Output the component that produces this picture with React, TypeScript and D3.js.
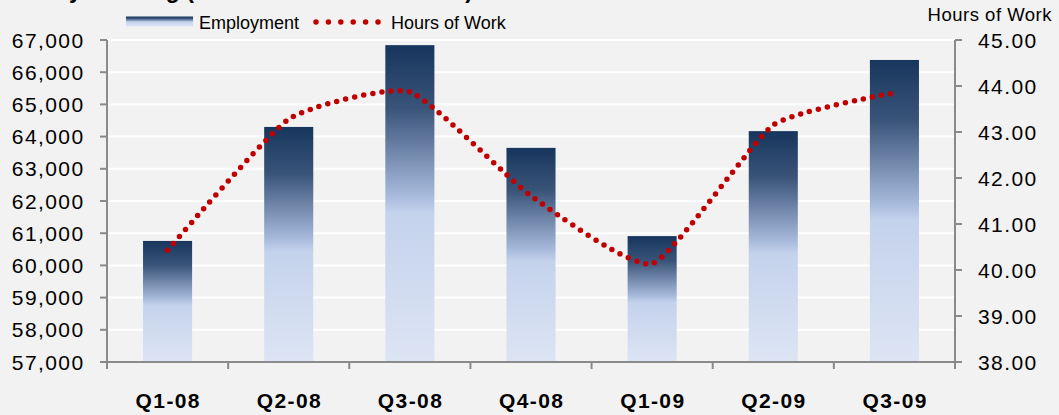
import React from 'react'
import * as d3 from 'd3'

const categories = ['Q1-08', 'Q2-08', 'Q3-08', 'Q4-08', 'Q1-09', 'Q2-09', 'Q3-09']
const employment = [60760, 64300, 66840, 63650, 60910, 64170, 66380]
const hoursOfWork = [40.43, 43.28, 43.87, 41.61, 40.14, 43.15, 43.85]
const leftTicks = [57000, 58000, 59000, 60000, 61000, 62000, 63000, 64000, 65000, 66000, 67000]
const rightTicks = [38, 39, 40, 41, 42, 43, 44, 45]

const width = 1059
const height = 415
const left = 107
const right = 955
const top = 40
const bottom = 362

const axisColor = '#8a8a8a'
const font = 'Arial, "Liberation Sans", sans-serif'

export default function App() {
  const x = d3.scaleBand().domain(categories).range([left, right]).paddingInner(0.595).paddingOuter(0.2975)
  const yLeft = d3.scaleLinear().domain([57000, 67000]).range([bottom, top])
  const yRight = d3.scaleLinear().domain([38, 45]).range([bottom, top])
  const step = x.step()

  // smoothed line, kinks at the points like the spreadsheet one
  const line = d3
    .line<number>()
    .x((d, i) => x(categories[i])! + x.bandwidth() / 2)
    .y(d => yRight(d))
    .curve(d3.curveCardinal.tension(0.5))

  const fmt = d3.format(',')

  return (
    <svg width={width} height={height} style={{ position: 'absolute', left: 0, top: 0, background: '#f2f2f2' }} fontFamily={font}>
      <defs>
        <linearGradient id="barGrad" x1="0" y1="0" x2="0" y2="1">
          <stop offset="0" stopColor="#17365d" />
          <stop offset="0.2" stopColor="#3a5479" />
          <stop offset="0.47" stopColor="#a5b8da" />
          <stop offset="0.53" stopColor="#c4d2ec" />
          <stop offset="1" stopColor="#dde5f4" />
        </linearGradient>
      </defs>
      <rect width={width} height={height} fill="#f2f2f2" />

      {/* title, mostly cut off at the top */}
      <text x={3} y={-2} fontSize={23} fontWeight="bold" fill="#000">
        Weekly Working (Hours and Total Workers)
      </text>

      {/* gridlines */}
      {leftTicks.slice(1).map(t => (
        <line key={t} x1={left} x2={right} y1={yLeft(t)} y2={yLeft(t)} stroke="#fff" strokeWidth={2} />
      ))}

      {/* bars */}
      {employment.map((v, i) => (
        <rect
          key={categories[i]}
          x={x(categories[i])}
          y={yLeft(v)}
          width={x.bandwidth()}
          height={bottom - yLeft(v)}
          fill="url(#barGrad)"
        />
      ))}

      {/* axes */}
      <line x1={left} x2={left} y1={top} y2={bottom} stroke={axisColor} strokeWidth={2} />
      <line x1={right} x2={right} y1={top} y2={bottom} stroke={axisColor} strokeWidth={2} />
      <line x1={left} x2={right} y1={bottom} y2={bottom} stroke={axisColor} strokeWidth={2} />

      {leftTicks.map(t => (
        <g key={t}>
          <line x1={left - 7} x2={left} y1={yLeft(t)} y2={yLeft(t)} stroke={axisColor} strokeWidth={2} />
          <text x={84.5} y={yLeft(t)} dy="0.36em" textAnchor="end" fontSize={21} letterSpacing={1.4} fill="#000">
            {fmt(t)}
          </text>
        </g>
      ))}

      {rightTicks.map(t => (
        <g key={t}>
          <line x1={right} x2={right + 7} y1={yRight(t)} y2={yRight(t)} stroke={axisColor} strokeWidth={2} />
          <text x={978} y={yRight(t)} dy="0.36em" fontSize={21} letterSpacing={1.4} fill="#000">
            {t.toFixed(2)}
          </text>
        </g>
      ))}

      {d3.range(categories.length + 1).map(i => (
        <line key={i} x1={left + i * step} x2={left + i * step} y1={bottom} y2={bottom + 7} stroke={axisColor} strokeWidth={2} />
      ))}

      {categories.map(c => (
        <text key={c} x={x(c)! + x.bandwidth() / 2 + 0.7} y={408} textAnchor="middle" fontSize={21} fontWeight="bold" letterSpacing={1.4} fill="#000">
          {c}
        </text>
      ))}

      {/* hours of work line */}
      <path d={line(hoursOfWork) || ''} fill="none" stroke="#c00000" strokeWidth={5.5} strokeLinecap="round" strokeDasharray="0 9.2" />

      {/* right axis title */}
      <text x={1052} y={21} textAnchor="end" fontSize={18.5} letterSpacing={0.5} fill="#000">
        Hours of Work
      </text>

      {/* legend */}
      <rect x={126} y={16.5} width={67} height={10} fill="url(#barGrad)" />
      <text x={199} y={29} fontSize={18} fill="#000">
        Employment
      </text>
      <line x1={316} x2={378} y1={22} y2={22} stroke="#c00000" strokeWidth={5.5} strokeLinecap="round" strokeDasharray="0 12.4" />
      <text x={391} y={29} fontSize={18} fill="#000">
        Hours of Work
      </text>
    </svg>
  )
}
